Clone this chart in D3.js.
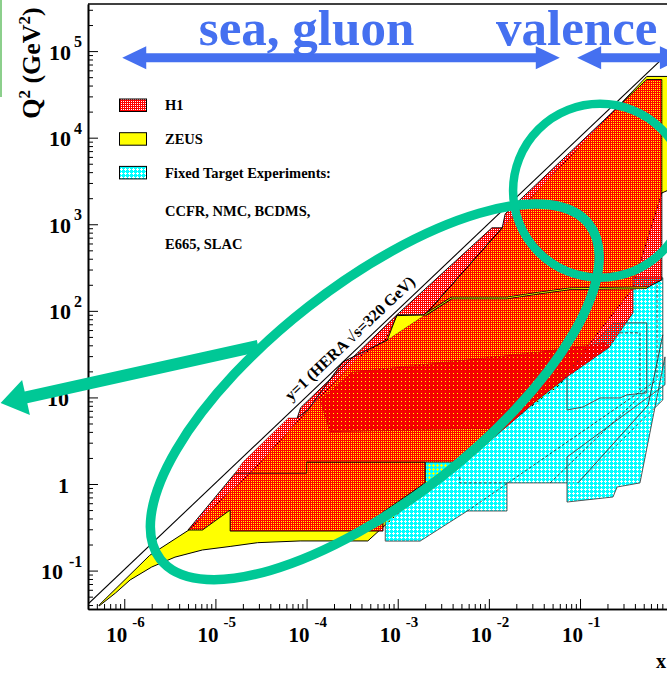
<!DOCTYPE html>
<html>
<head>
<meta charset="utf-8">
<script src="https://cdn.jsdelivr.net/npm/d3@7"></script>
<style>
  html, body { margin: 0; padding: 0; background: #fff; }
  svg { display: block; }
  text { font-family: "Liberation Serif", "Times New Roman", serif; font-weight: bold; }
</style>
</head>
<body>
<svg id="chart" width="667" height="677"></svg>
<script>
// x - Q^2 plane covered by DIS measurements
const xDomain = [4.0e-7, 1.25];
const yDomain = [0.036, 3.5e5];

const xTicks = [1e-6, 1e-5, 1e-4, 1e-3, 1e-2, 1e-1];
const xTickExp = ['-6', '-5', '-4', '-3', '-2', '-1'];
const yTicks = [1e-1, 1, 10, 1e2, 1e3, 1e4, 1e5];
const yTickText = [['10', '-1'], ['1', ''], ['10', ''], ['10', '2'], ['10', '3'], ['10', '4'], ['10', '5']];

// y=1 at HERA, sqrt(s)=320 GeV
const kinLine = [[4.0e-7, 0.041], [1.25, 1.28e5]];
const kinLabelAt = [3.7e-4, 37.9];

// ZEUS
const zeus = [
  [5.3e-7, 0.040], [1.9e-6, 0.15], [5.0e-6, 0.29], [2.5e-5, 1.38], [9.7e-5, 6.6], [1.41e-4, 10.1],
  [3.7e-4, 29], [7.3e-4, 46], [9.8e-4, 88], [2.0e-3, 90], [1.4e-2, 910],
  [0.54, 5.1e4], [0.95, 5.1e4], [0.95, 2.5e3], [0.79, 2.3e3], [0.37, 175],
  [0.166, 60], [0.060, 14], [1.33e-2, 4.2], [1.55e-3, 0.69], [4.7e-4, 0.22],
  [8.5e-5, 0.22], [2.9e-5, 0.21], [1.45e-5, 0.19], [7.2e-6, 0.173], [3.6e-6, 0.143],
  [2.0e-6, 0.11], [1.16e-6, 0.078], [8.0e-7, 0.055], [5.3e-7, 0.039]
];
const zeusEdge = [[2.0e-3, 90], [3.9e-3, 141], [1.58e-2, 141], [3.6e-2, 161], [7.8e-2, 180], [0.54, 185]];

// H1
const h1Low = [
  [5.0e-6, 0.294], [7.2e-6, 0.294], [1.45e-5, 0.50], [1.45e-5, 0.286], [6.9e-4, 0.286],
  [6.9e-4, 0.474], [2.0e-3, 1.03], [2.0e-3, 1.79], [1.0e-4, 1.79], [1.0e-4, 1.34], [1.65e-5, 1.34]
];
const h1Mid = [
  [1.65e-5, 1.34], [2.0e-5, 1.79], [6.3e-5, 5.8], [7.9e-5, 5.8], [1.04e-4, 7.2],
  [1.24e-4, 9.35], [2.5e-4, 25.7], [4.2e-4, 33.6], [7.7e-4, 46], [2.0e-3, 90],
  [3.9e-3, 141], [1.58e-2, 141], [3.6e-2, 161], [7.8e-2, 180], [0.54, 185],
  [0.79, 228], [0.38, 175], [0.38, 95], [0.21, 38], [7.2e-2, 17.3],
  [3.4e-2, 9.35], [5.5e-3, 1.79], [1.0e-4, 1.79], [1.0e-4, 1.34]
];
const h1High = [
  [2.0e-3, 90], [1.4e-2, 910], [1.51e-2, 1.32e3], [0.54, 4.7e4], [0.79, 4.7e4],
  [0.79, 228], [0.54, 185], [7.8e-2, 180], [3.6e-2, 161], [1.58e-2, 141], [3.9e-3, 141]
];
const h1Overlap = [
  [1.41e-4, 9.35], [3.2e-4, 19.7], [3.6e-2, 33.6], [0.188, 42.7], [0.21, 38],
  [7.2e-2, 17.3], [3.4e-2, 9.35], [1.51e-2, 4.44], [1.8e-4, 4.0]
];
const h1StripLow = [
  [7.9e-5, 5.8], [8.6e-5, 7.6], [9.8e-4, 90], [7.7e-4, 46], [4.2e-4, 33.6],
  [2.5e-4, 25.7], [1.24e-4, 9.35], [1.04e-4, 7.2]
];
const h1StripHigh = [[9.8e-4, 90], [2.0e-3, 90], [1.4e-2, 910], [1.08e-2, 910]];

// fixed target
const ftMain = [
  [7.3e-4, 0.219], [1.76e-3, 0.219], [5.8e-3, 0.488], [1.58e-2, 0.488], [1.58e-2, 1.03],
  [9.5e-2, 1.03], [0.81, 9.35], [0.81, 241], [0.38, 241], [0.38, 95],
  [0.21, 38], [7.2e-2, 17.3], [3.4e-2, 9.35], [5.5e-3, 1.79], [2.0e-3, 1.79],
  [2.0e-3, 1.03], [7.3e-4, 0.474]
];
const ftE665 = [
  [7.2e-2, 19.2], [7.2e-2, 7.16], [0.108, 7.76], [0.166, 9.87], [0.275, 9.87],
  [0.327, 10.7], [0.54, 11.3], [0.54, 72.6], [0.23, 72.6]
];
const ftSlac = [[7.2e-2, 2.05], [7.2e-2, 0.619], [0.23, 0.708], [0.255, 0.923], [0.455, 1.03], [0.855, 29.4], [0.855, 14.0]];
const ftInnerSolid = [[[9.5e-2, 1.03], [0.56, 8.2], [0.81, 52.8]]];
const ftInner = [
  [[5.8e-3, 0.488], [0.70, 15.9]],
  [[4.7e-2, 1.03], [0.54, 12.2]],
  [[0.70, 228], [0.70, 15.9]],
  [[4.8e-3, 1.21], [4.8e-3, 1.03], [1.58e-2, 1.03]],
  [[0.188, 55.7], [0.455, 55.7], [0.455, 12.2]]
];

// annotations
const rangeArrowQ2 = 8.4e4;
const rangeArrows = [[9.5e-7, 6.0e-2], [9.3e-2, 1.38]];
const rangeLabelQ2 = 1.18e5;
const rangeLabels = [['sea, gluon', 1.0e-4], ['valence', 9.2e-2]];
const lowXRing = [5.6e-4, 11.6];
const highXRing = [0.166, 2.44e3];
const pointer = [[2.94e-5, 39.4], [4.4e-8, 8.6]];

const legendItems = [['H1', 'url(#h1Pat)'], ['ZEUS', '#ffff00'], ['Fixed Target Experiments:', 'url(#ftPat)']];
const legendNotes = ['CCFR, NMC, BCDMS,', 'E665, SLAC'];

const svg = d3.select('#chart');
const x = d3.scaleLog().domain(xDomain).range([88, 680]);
const y = d3.scaleLog().domain(yDomain).range([609, 4]);
const line = d3.line().x(d => x(d[0])).y(d => y(d[1]));
const poly = (pts) => line(pts) + 'Z';

const defs = svg.append('defs');
function addPattern(id, size, d, color) {
  defs.append('pattern')
    .attr('id', id)
    .attr('patternUnits', 'userSpaceOnUse')
    .attr('width', size)
    .attr('height', size)
    .append('path')
    .attr('d', d)
    .attr('fill', color)
    .attr('fill-rule', 'evenodd')
    .attr('shape-rendering', 'crispEdges');
}
addPattern('h1Pat', 2, 'M0,0H2V2H0Z M1,1H2V2H1Z', '#ff0000');
addPattern('h1Dense', 4, 'M0,0H4V4H0Z M1,1H2V2H1Z', '#f50000');
addPattern('ftPat', 4, 'M0,0H4V4H0Z M1,0H2V1H3V2H2V3H1V2H0V1H1Z', '#00ffff');

defs.append('clipPath').attr('id', 'plotClip')
  .append('rect').attr('x', 88).attr('y', 4).attr('width', 592).attr('height', 605);

svg.append('rect').attr('x', 0).attr('y', 0).attr('width', 2).attr('height', 97).attr('fill', '#8ccf8c');

const plot = svg.append('g').attr('clip-path', 'url(#plotClip)');

plot.append('path').attr('d', poly(zeus))
  .attr('fill', '#ffff00').attr('stroke', '#000').attr('stroke-width', 1);

[ftMain, ftE665, ftSlac].forEach(p => {
  plot.append('path').attr('d', poly(p))
    .attr('fill', 'url(#ftPat)').attr('stroke', '#444').attr('stroke-width', 0.9);
});
ftInnerSolid.forEach(p => {
  plot.append('path').attr('d', line(p))
    .attr('fill', 'none').attr('stroke', '#333').attr('stroke-width', 0.9);
});
ftInner.forEach(p => {
  plot.append('path').attr('d', line(p))
    .attr('fill', 'none').attr('stroke', '#222').attr('stroke-width', 0.8)
    .attr('stroke-dasharray', '3,2');
});

plot.append('path').attr('d', poly(h1Low))
  .attr('fill', 'url(#h1Pat)').attr('stroke', '#000').attr('stroke-width', 0.9);
plot.append('path').attr('d', poly(h1Mid))
  .attr('fill', 'url(#h1Pat)').attr('stroke', '#000').attr('stroke-width', 0.6).attr('stroke-opacity', 0.5);
plot.append('path').attr('d', poly(h1High))
  .attr('fill', 'url(#h1Pat)').attr('stroke', '#000').attr('stroke-width', 0.9);
plot.append('path').attr('d', poly(h1Overlap))
  .attr('fill', 'url(#h1Dense)').attr('stroke', '#600').attr('stroke-width', 0.5).attr('stroke-opacity', 0.4);
[h1StripLow, h1StripHigh].forEach(p => {
  plot.append('path').attr('d', poly(p))
    .attr('fill', 'url(#h1Pat)').attr('stroke', '#000').attr('stroke-width', 0.9);
});

plot.append('path').attr('d', line(zeusEdge))
  .attr('fill', 'none').attr('stroke', '#000').attr('stroke-width', 2.6);
plot.append('path').attr('d', line(zeusEdge))
  .attr('fill', 'none').attr('stroke', '#ffff00').attr('stroke-width', 0.9);

plot.append('path').attr('d', line(kinLine))
  .attr('fill', 'none').attr('stroke', '#000').attr('stroke-width', 1.1);

const kinAngle = Math.atan2(y(kinLine[1][1]) - y(kinLine[0][1]), x(kinLine[1][0]) - x(kinLine[0][0])) * 180 / Math.PI;
svg.append('text')
  .attr('transform', `translate(${x(kinLabelAt[0])},${y(kinLabelAt[1])}) rotate(${kinAngle})`)
  .attr('y', -7)
  .attr('text-anchor', 'middle')
  .attr('font-size', 16)
  .text('y=1 (HERA \u221As=320 GeV)');

// axes
const minor = (dom) => {
  const out = [];
  for (let e = -8; e <= 6; e++) {
    for (let k = 2; k <= 9; k++) {
      const v = k * Math.pow(10, e);
      if (v > dom[0] && v < dom[1]) out.push(v);
    }
  }
  return out;
};
const styleAxis = (g) => {
  g.select('.domain').attr('stroke', '#000').attr('stroke-width', 1.6);
  g.selectAll('.tick line').attr('stroke', '#000').attr('stroke-width', 1);
};
const majX = xTicks.concat([1]);
svg.append('g').attr('transform', 'translate(0,609)')
  .call(d3.axisBottom(x).tickValues(majX).tickSize(-10).tickSizeOuter(0).tickFormat(''))
  .call(styleAxis);
svg.append('g').attr('transform', 'translate(0,609)')
  .call(d3.axisBottom(x).tickValues(minor(xDomain)).tickSize(-5).tickSizeOuter(0).tickFormat(''))
  .call(styleAxis);
svg.append('g').attr('transform', 'translate(88,0)')
  .call(d3.axisLeft(y).tickValues(yTicks).tickSize(-10).tickSizeOuter(0).tickFormat(''))
  .call(styleAxis);
svg.append('g').attr('transform', 'translate(88,0)')
  .call(d3.axisLeft(y).tickValues(minor(yDomain)).tickSize(-5).tickSizeOuter(0).tickFormat(''))
  .call(styleAxis);
svg.append('line').attr('x1', 88).attr('x2', 680).attr('y1', 4).attr('y2', 4)
  .attr('stroke', '#000').attr('stroke-width', 1.4);

const labels = svg.append('g').attr('fill', '#000');
xTicks.forEach((v, i) => {
  labels.append('text').attr('x', x(v) + 3).attr('y', 642)
    .attr('text-anchor', 'end').attr('font-size', 21).text('10');
  labels.append('text').attr('x', x(v) + 8).attr('y', 627)
    .attr('font-size', 15).text(xTickExp[i]);
});
yTicks.forEach((v, i) => {
  const [base, sup] = yTickText[i];
  const neg = sup.startsWith('-');
  const baseEnd = sup ? (neg ? 63 : 71) : 69;
  labels.append('text').attr('x', baseEnd).attr('y', y(v) + 8.5)
    .attr('text-anchor', 'end').attr('font-size', 22).text(base);
  if (sup) {
    labels.append('text').attr('x', baseEnd + (neg ? 6 : 3)).attr('y', y(v) - 4)
      .attr('font-size', 16).text(sup);
  }
});

const yTitle = svg.append('text')
  .attr('transform', 'translate(40,63) rotate(-90)')
  .attr('text-anchor', 'middle')
  .attr('font-size', 26);
yTitle.append('tspan').text('Q');
yTitle.append('tspan').attr('font-size', 17).attr('dy', -10).text('2');
yTitle.append('tspan').attr('dy', 10).text(' (GeV');
yTitle.append('tspan').attr('font-size', 17).attr('dy', -10).text('2');
yTitle.append('tspan').attr('dy', 10).text(')');

svg.append('text').attr('x', 656).attr('y', 668).attr('font-size', 20).text('x');

// legend
const legend = svg.append('g');
legendItems.forEach(([label, fill], i) => {
  const top = 99 + i * 33.7;
  legend.append('rect').attr('x', 119.5).attr('y', top).attr('width', 27).attr('height', 12.5)
    .attr('fill', fill).attr('stroke', '#000').attr('stroke-width', 1);
  legend.append('text').attr('x', 165).attr('y', top + 11.3).attr('font-size', 14.5).text(label);
});
legendNotes.forEach((t, i) => {
  legend.append('text').attr('x', 165).attr('y', 216 + i * 33).attr('font-size', 14.5).text(t);
});

// blue range arrows and labels
const blue = '#4570f0';
const ay = y(rangeArrowQ2);
rangeArrows.forEach(([a, b]) => {
  const x0 = x(a), x1 = x(b), hl = 24, hw = 11.5, sw = 4.5;
  const pts = [
    [x0, ay], [x0 + hl, ay - hw], [x0 + hl, ay - sw], [x1 - hl, ay - sw], [x1 - hl, ay - hw],
    [x1, ay], [x1 - hl, ay + hw], [x1 - hl, ay + sw], [x0 + hl, ay + sw], [x0 + hl, ay + hw]
  ];
  svg.append('path').attr('d', d3.line()(pts) + 'Z').attr('fill', blue);
});
rangeLabels.forEach(([t, v]) => {
  svg.append('text').attr('x', x(v)).attr('y', y(rangeLabelQ2))
    .attr('text-anchor', 'middle').attr('font-size', 51).attr('fill', blue).text(t);
});

// green highlights
const green = '#00c896';
svg.append('ellipse')
  .attr('transform', `translate(${x(lowXRing[0])},${y(lowXRing[1])}) rotate(-38)`)
  .attr('rx', 272).attr('ry', 108)
  .attr('fill', 'none').attr('stroke', green).attr('stroke-width', 9.5);
svg.append('circle')
  .attr('cx', x(highXRing[0])).attr('cy', y(highXRing[1])).attr('r', 87)
  .attr('fill', 'none').attr('stroke', green).attr('stroke-width', 8.5);

const p0 = [x(pointer[0][0]), y(pointer[0][1])];
const p1 = [x(pointer[1][0]), y(pointer[1][1])];
const len = Math.hypot(p1[0] - p0[0], p1[1] - p0[1]);
const u = [(p1[0] - p0[0]) / len, (p1[1] - p0[1]) / len];
const n = [-u[1], u[0]];
const at = (s, w) => [p0[0] + u[0] * s + n[0] * w, p0[1] + u[1] * s + n[1] * w];
const headLen = 26, shaft = 6, head = 18;
svg.append('path')
  .attr('d', d3.line()([
    at(0, -shaft), at(len - headLen, -shaft), at(len - headLen, -head), at(len, 0),
    at(len - headLen, head), at(len - headLen, shaft), at(0, shaft)
  ]) + 'Z')
  .attr('fill', green);
</script>
</body>
</html>
